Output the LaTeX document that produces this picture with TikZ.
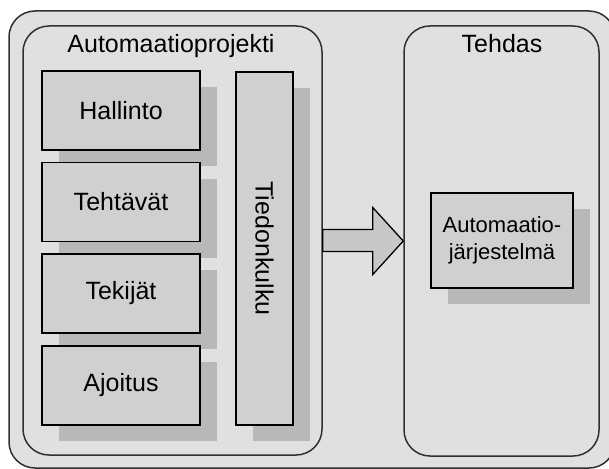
\documentclass[tikz,border=0pt]{standalone}
\usepackage{fontspec}
\setmainfont{Liberation Sans}
\usetikzlibrary{shadows,calc}
\definecolor{bgray}{HTML}{E0E0E0}
\definecolor{boxgray}{HTML}{D0D0D0}
\definecolor{shadgray}{HTML}{B8B8B8}
\definecolor{arrgray}{HTML}{C8C8C8}
\definecolor{edgegray}{HTML}{303030}
\tikzset{
  panel/.style={draw=edgegray, line width=1.5pt, fill=bgray, rounded corners=26pt, inner sep=0pt},
  itembox/.style={draw=black, line width=1.3pt, fill=boxgray, inner sep=0pt,
    drop shadow={shadow xshift=17pt, shadow yshift=-16pt, opacity=1, fill=shadgray}},
  lbl/.style={font=\fontsize{25pt}{30pt}\selectfont},
  title/.style={font=\fontsize{25pt}{30pt}\selectfont, anchor=base, inner sep=0pt},
  bigarrow/.style={draw=black, line width=1.3pt, fill=arrgray, line join=miter},
}
\begin{document}
\begin{tikzpicture}[x=1pt,y=-1pt]
\useasboundingbox (0,0) rectangle (609,468);
\clip (0,0) rectangle (609,468);
\fill[white] (0,0) rectangle (609,468);
% outer frame
\node[panel, minimum width=606pt, minimum height=457pt] (outer) at (312,239.5) {};
% panels
\node[panel, minimum width=299pt, minimum height=429pt] (proj) at (172.5,240.5) {};
\node[panel, minimum width=195pt, minimum height=430pt] (teh) at (501.5,241) {};
\node[title] (projt) at (171,53) {Automaatioprojekti};
\node[title] (teht) at (502,53) {Tehdas};
% items
\node[itembox, lbl, minimum width=158pt, minimum height=79pt] (hal) at (121,110.5) {Hallinto};
\node[itembox, lbl, minimum width=158pt, minimum height=79pt] (teh1) at (121,202) {Tehtävät};
\node[itembox, lbl, minimum width=158pt, minimum height=79pt] (tek) at (121,293.5) {Tekijät};
\node[itembox, lbl, minimum width=158pt, minimum height=79pt] (ajo) at (121,385.5) {Ajoitus};
\node[itembox, minimum width=57pt, minimum height=353pt] (tied) at (264.5,248.5) {};
\node[lbl, rotate=-90, inner sep=0pt] (tiedt) at (tied.center) {Tiedonkulku};
\node[itembox, minimum width=142pt, minimum height=95pt, align=center,
  font=\fontsize{22pt}{27pt}\selectfont] (aj) at (502,240.5) {Automaatio-\\järjestelmä};
% big arrow
\coordinate (a0) at ($(proj.east)+(0,-11)$);
\coordinate (a1) at ($(proj.east)+(50,-11)$);
\coordinate (a2) at ($(proj.east)+(50,-33)$);
\coordinate (a4) at ($(proj.east)+(50,34)$);
\coordinate (a5) at ($(proj.east)+(50,11)$);
\coordinate (a6) at ($(proj.east)+(0,11)$);
\filldraw[bigarrow] (a0) -- (a1) -- (a2) -- (teh.west) -- (a4) -- (a5) -- (a6) -- cycle;
\end{tikzpicture}
\end{document}
